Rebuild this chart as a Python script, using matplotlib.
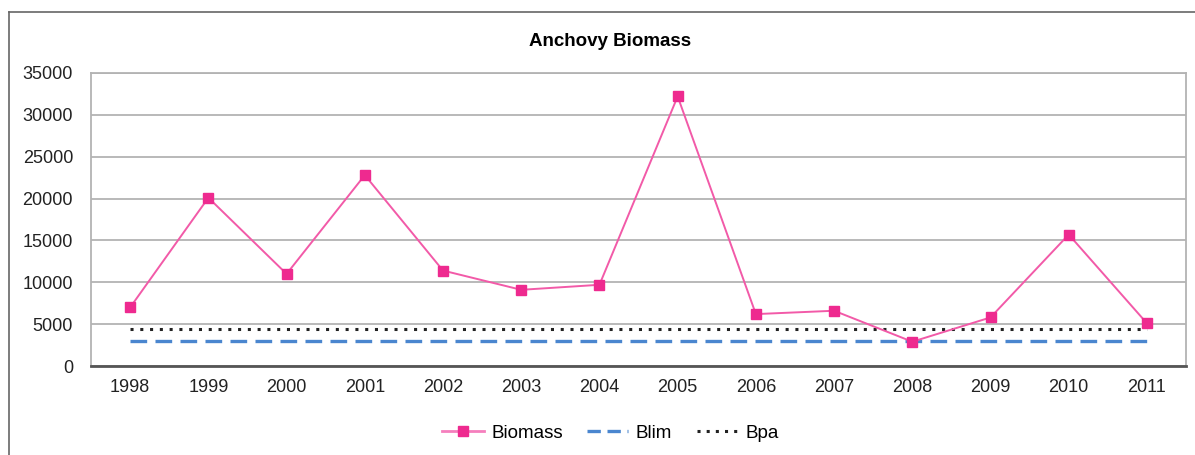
import matplotlib
matplotlib.use("Agg")
import matplotlib.pyplot as plt
from matplotlib.lines import Line2D

years = ["1998", "1999", "2000", "2001", "2002", "2003", "2004",
         "2005", "2006", "2007", "2008", "2009", "2010", "2011"]
biomass = [7000, 20100, 11000, 22800, 11400, 9100, 9700,
           32200, 6200, 6600, 2900, 5800, 15700, 5100]
blim = [3000] * len(years)
bpa = [4400] * len(years)
yticks = [0, 5000, 10000, 15000, 20000, 25000, 30000, 35000]

plt.rcParams['font.family'] = ['Liberation Sans', 'DejaVu Sans']

fig = plt.figure(figsize=(11.95, 4.55), dpi=100)
ax = fig.add_axes([0.0762, 0.1956, 0.9163, 0.644])

x = list(range(len(years)))
ax.plot(x, bpa, color="#222222", linestyle=(0, (1, 2.2)), linewidth=2.2, label="Bpa", zorder=2)
ax.plot(x, blim, color="#4a86cf", linestyle=(0, (5, 2.5)), linewidth=2.4, label="Blim", zorder=2)
ax.plot(x, biomass, color="#f25aa8", linewidth=1.4, marker="s", markersize=7,
        markerfacecolor="#ee2a8f", markeredgecolor="#ee2a8f", label="Biomass", zorder=3)

ax.set_xlim(-0.5, len(years) - 0.5)
ax.set_ylim(0, 35000)
ax.set_yticks(yticks)
ax.set_yticklabels([str(v) for v in yticks])
ax.set_xticks(x)
ax.set_xticklabels(years)
ax.tick_params(axis='both', length=0, labelsize=13, colors="#222222")
ax.tick_params(axis='y', pad=13)
ax.tick_params(axis='x', pad=9)
ax.yaxis.grid(True, color="#b3b3b3", linewidth=1.3)
ax.set_axisbelow(True)
for s in ["left", "right", "top"]:
    ax.spines[s].set_color("#b3b3b3")
    ax.spines[s].set_linewidth(1.3)
ax.spines["bottom"].set_color("#555555")
ax.spines["bottom"].set_linewidth(2)

fig.text(0.5105, 1 - 42 / 455, "Anchovy Biomass", ha="center", va="center",
         fontsize=13.5, fontweight="bold")

handles = [
    Line2D([], [], color="#f57fbd", linewidth=2, marker="s", markersize=7,
           markerfacecolor="#ee2a8f", markeredgecolor="#ee2a8f"),
    Line2D([], [], color="#4a86cf", linestyle=(0, (4, 2)), linewidth=2.4),
    Line2D([], [], color="#222222", linestyle=(0, (1, 2)), linewidth=2.2),
]
fig.legend(handles, ["Biomass", "Blim", "Bpa"], loc="center",
           bbox_to_anchor=(0.511, 1 - 433 / 455), ncol=3, frameon=False,
           fontsize=13.5, handlelength=2.2, columnspacing=1.3, handletextpad=0.4)

# outer chart frame (left and top edges visible)
fig.add_artist(Line2D([9 / 1195, 9 / 1195], [0, 1 - 12 / 455], color="#666666",
                      linewidth=1.2, transform=fig.transFigure))
fig.add_artist(Line2D([9 / 1195, 1], [1 - 12 / 455, 1 - 12 / 455], color="#666666",
                      linewidth=1.2, transform=fig.transFigure))

fig.savefig("out.png", dpi=100, facecolor="white")
